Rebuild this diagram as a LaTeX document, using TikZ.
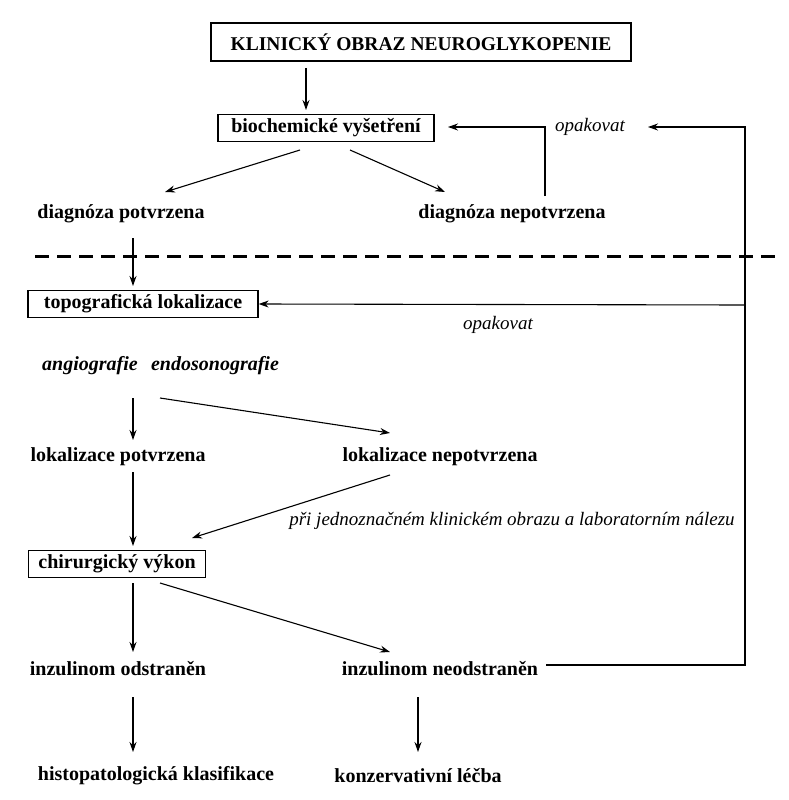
\documentclass[tikz,border=0pt]{standalone}
\usepackage{fontspec}
\setmainfont{Liberation Serif}
\usetikzlibrary{arrows.meta}
\begin{document}
\begin{tikzpicture}[x=1pt,y=-1pt,
  t/.style={font=\fontsize{20}{22}\selectfont\bfseries, inner sep=2pt},
  it/.style={font=\fontsize{19}{21}\selectfont\itshape, inner sep=2pt},
  bi/.style={font=\fontsize{20}{22}\selectfont\bfseries\itshape, inner sep=2pt},
  bx/.style={t, draw, line width=1.3pt, inner xsep=6pt, inner ysep=4pt},
  ar/.style={-{Stealth[length=10pt,width=7pt]}, line width=1.1pt},
  ln/.style={line width=1.1pt}]
\useasboundingbox (0,0) rectangle (788,800);
\node[bx, font=\fontsize{19.5}{21}\selectfont\bfseries, minimum width=420, minimum height=38] (k) at (421,42) {KLINICKÝ OBRAZ NEUROGLYKOPENIE};
\node[bx, minimum width=216, minimum height=27] (b) at (326,128) {biochemické vyšetření};
\node[t] (dp) at (121,214) {diagnóza potvrzena};
\node[t] (dn) at (512,214) {diagnóza nepotvrzena};
\node[it] (o1) at (590,127) {opakovat};
\node[it] (o2) at (498,325) {opakovat};
\node[bx, minimum width=230, minimum height=27] (tl) at (143,304) {topografická lokalizace};
\node[bi] (an) at (90,366) {angiografie};
\node[bi] (en) at (215,366) {endosonografie};
\node[t] (lp) at (118,457) {lokalizace potvrzena};
\node[t] (ln) at (440,457) {lokalizace nepotvrzena};
\node[it] (pj) at (512,521) {při jednoznačném klinickém obrazu a laboratorním nálezu};
\node[bx, minimum width=177, minimum height=27] (ch) at (117,564) {chirurgický výkon};
\node[t] (io) at (118,669) {inzulinom odstraněn};
\node[t] (in) at (440,669) {inzulinom neodstraněn};
\node[t] (hk) at (156,776) {histopatologická klasifikace};
\node[t] (kl) at (418,776) {konzervativní léčba};
\coordinate (r1) at (745,127);
\coordinate (r2) at (745,305);
\coordinate (r3) at (745,665);
\draw[ar] (306,68) -- (306,110);
\draw[ar] (300,150) -- (165,192);
\draw[ar] (350,150) -- (445,192);
\draw[ar] (545,196) -- (545,127) -- (448,127);
\draw[ar] (in.east) ++(6,-4) -- (r3) -- (r1) -- (648,127);
\draw[ar] (r2) -- (tl.east);
\draw[line width=3pt, dash pattern=on 14pt off 8pt] (35,256) -- (775,256);
\draw[ar] (133,238) -- (133,286);
\draw[ar] (133,398) -- (133,440);
\draw[ar] (160,398) -- (390,433);
\draw[ar] (390,475) -- (192,538);
\draw[ar] (133,472) -- (133,546);
\draw[ar] (133,583) -- (133,652);
\draw[ar] (160,583) -- (390,652);
\draw[ar] (133,697) -- (133,752);
\draw[ar] (418,697) -- (418,752);
\end{tikzpicture}
\end{document}
